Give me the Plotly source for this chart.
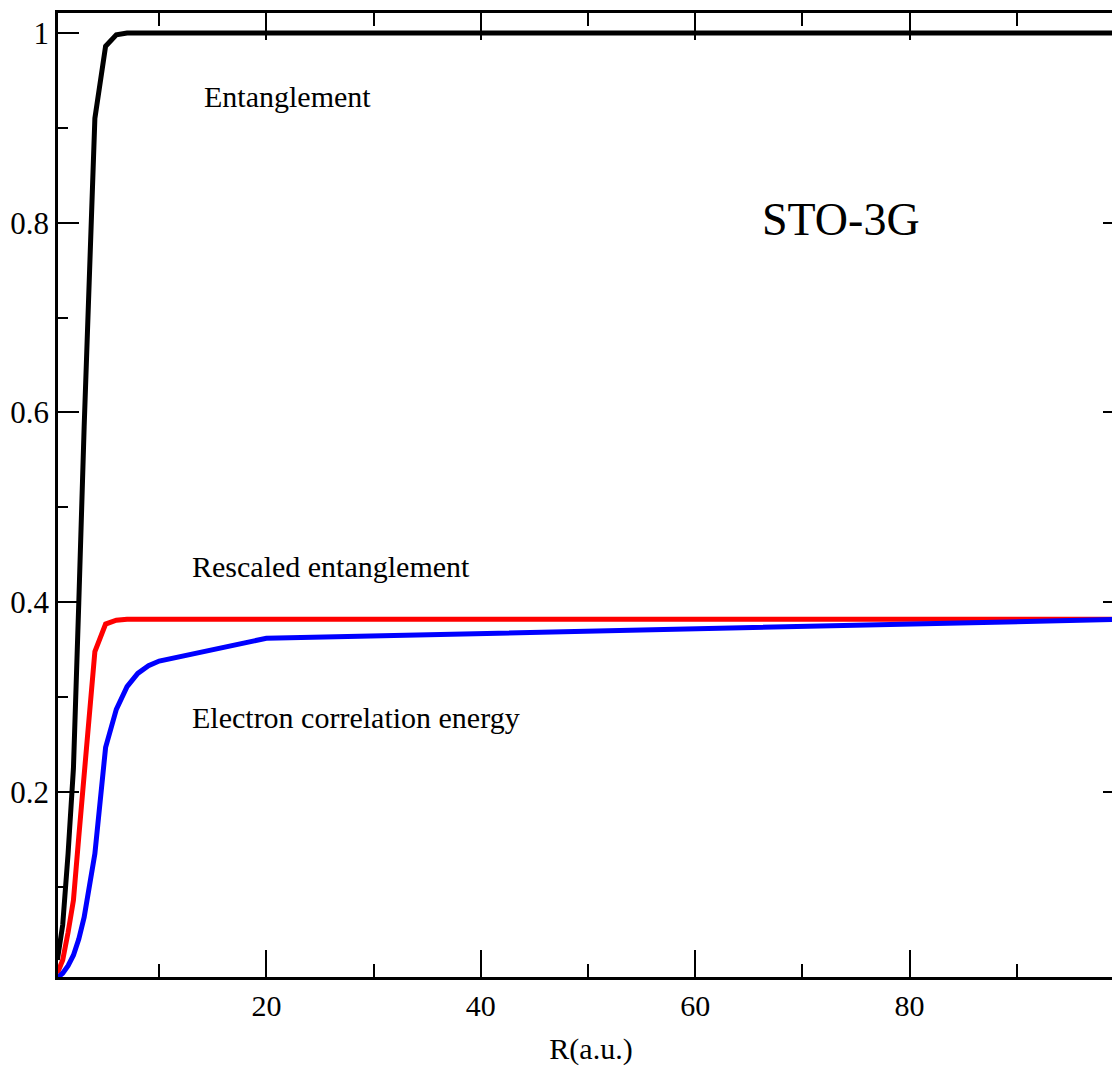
import plotly.graph_objects as go

# Data
R = [0.5, 1.0, 1.5, 2.0, 2.5, 3.0, 4.0, 5.0, 6.0, 7.0, 8.0, 9.0, 10.0, 20.0, 100.0]
entanglement = [0.023, 0.060, 0.135, 0.225, 0.400, 0.585, 0.910, 0.986, 0.998, 1.0, 1.0, 1.0, 1.0, 1.0, 1.0]
rescaled = [0.009, 0.023, 0.052, 0.086, 0.153, 0.223, 0.348, 0.377, 0.381, 0.382, 0.382, 0.382, 0.382, 0.382, 0.382]
correlation = [0.004, 0.009, 0.017, 0.028, 0.045, 0.068, 0.135, 0.247, 0.287, 0.311, 0.325, 0.333, 0.338, 0.362, 0.382]

y_tickvals = [0.2, 0.4, 0.6, 0.8, 1.0]
y_ticktext = ["0.2", "0.4", "0.6", "0.8", "1"]
x_tickvals = [20, 40, 60, 80]

FONT = "Liberation Serif, Times New Roman, serif"

fig = go.Figure()
fig.add_trace(go.Scatter(x=R, y=entanglement, mode="lines",
                         line=dict(color="#000000", width=5), showlegend=False))
fig.add_trace(go.Scatter(x=R, y=rescaled, mode="lines",
                         line=dict(color="#ff0000", width=5), showlegend=False))
fig.add_trace(go.Scatter(x=R, y=correlation, mode="lines",
                         line=dict(color="#0000ff", width=5), showlegend=False))

annotations = [
    dict(text="Entanglement", x=13.95, y=0.933, size=30),
    dict(text="STO-3G", x=66.0, y=0.803, size=46),
    dict(text="Rescaled entanglement", x=12.9, y=0.438, size=30),
    dict(text="Electron correlation energy", x=12.9, y=0.278, size=30),
]
for a in annotations:
    fig.add_annotation(x=a["x"], y=a["y"], text=a["text"], showarrow=False,
                       xanchor="left", yanchor="middle",
                       font=dict(family=FONT, size=a["size"], color="black"))

fig.update_layout(
    width=1127, height=1066,
    margin=dict(l=58, r=0, t=13, b=89),
    paper_bgcolor="white", plot_bgcolor="white",
    font=dict(family=FONT, size=30, color="black"),
    xaxis=dict(range=[0.56, 100], tickvals=x_tickvals, ticks="inside", ticklen=27,
               tickwidth=1.5, tickcolor="black", showline=True, linewidth=2.5,
               linecolor="black", mirror="ticks", showgrid=False, zeroline=False,
               ticklabelstandoff=0,
               minor=dict(dtick=10, tick0=0, ticks="inside", ticklen=13, tickwidth=1.5,
                          tickcolor="black", showgrid=False),
               title=dict(text="R(a.u.)", font=dict(family=FONT, size=30), standoff=18),
               tickfont=dict(family=FONT, size=30)),
    yaxis=dict(range=[0.005, 1.021], tickvals=y_tickvals, ticktext=y_ticktext,
               ticks="inside", ticklen=21, tickwidth=1.5, tickcolor="black",
               showline=True, linewidth=2.5, linecolor="black", mirror="ticks",
               showgrid=False, zeroline=False, ticklabelstandoff=0,
               minor=dict(dtick=0.1, tick0=0, ticks="inside", ticklen=10, tickwidth=1.5,
                          tickcolor="black", showgrid=False),
               tickfont=dict(family=FONT, size=31)),
)

fig.write_html("out.html", config={"displayModeBar": False},
               post_script="document.body.style.margin='0';document.body.style.overflow='hidden';")
